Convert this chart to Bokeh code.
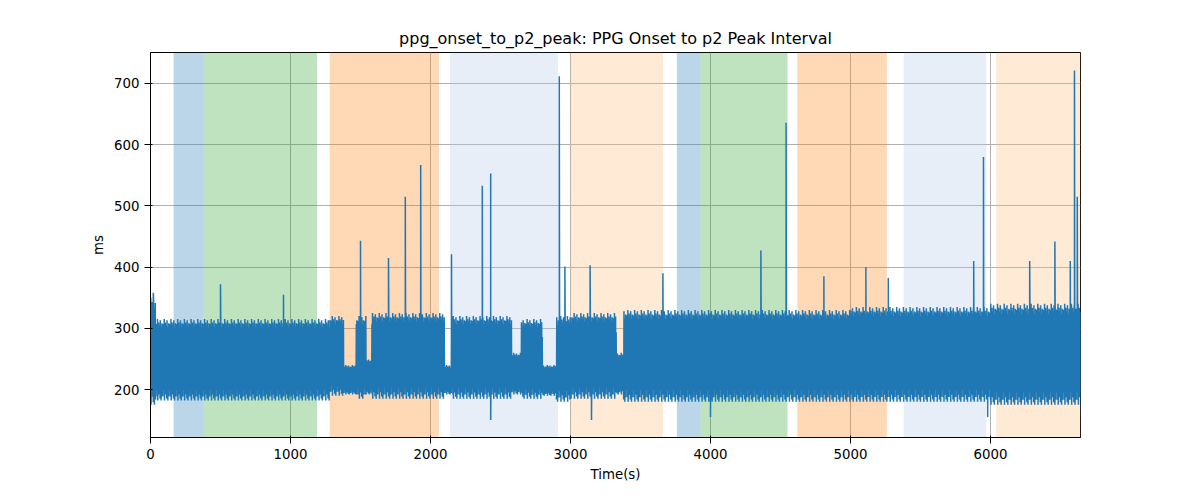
from bokeh.plotting import figure
from bokeh.models import BoxAnnotation, Range1d
from bokeh.embed import file_html
from bokeh.resources import INLINE

# shaded phases
span_start = [165, 375, 1280, 2140, 3000, 3760, 3930, 4620, 5380, 6040]
span_end   = [375, 1190, 2060, 2910, 3660, 3930, 4550, 5260, 5970, 6660]
span_color = ["#1f77b4", "#2ca02c", "#ff7f0e", "#aec7e8", "#ffbb78",
              "#1f77b4", "#2ca02c", "#ff7f0e", "#aec7e8", "#ffbb78"]

# signal envelope segments
seg_start = [0, 40, 1280, 1380, 1470, 1540, 1580, 2100, 2150, 2580, 2650, 2800, 2900, 3000, 3330, 3380, 3700, 5000, 6000]
seg_end   = [40, 1280, 1380, 1470, 1540, 1580, 2100, 2150, 2580, 2650, 2800, 2900, 3000, 3330, 3380, 3700, 5000, 6000, 6643]
seg_low   = [175, 182, 190, 192, 185, 192, 185, 192, 185, 192, 185, 190, 180, 185, 192, 180, 180, 180, 175]
seg_high  = [350, 315, 320, 240, 320, 250, 325, 240, 320, 260, 315, 240, 320, 325, 260, 330, 330, 335, 340]
# relative swing pattern of successive beats (fraction of envelope)
swing_hi = [1.0, 0.7, 0.92, 0.55, 0.85, 0.97, 0.62, 0.8, 0.9, 0.45, 0.88, 0.75]
swing_lo = [0.9, 1.0, 0.7, 0.85, 0.6, 0.95, 0.8, 1.0, 0.65, 0.9, 0.75, 0.5]

# spikes and dips
spike_t = [20, 500, 950, 1500, 1700, 1820, 1930, 2150, 2370, 2430, 2920, 2960, 3140, 3660,
           4360, 4540, 4810, 5110, 5270, 5880, 5950, 6280, 6460, 6570, 6600, 6620]
spike_v = [358, 372, 355, 443, 415, 515, 567, 421, 533, 553, 712, 401, 403, 390,
           427, 636, 385, 400, 382, 410, 580, 410, 442, 410, 721, 515]
dip_t = [2430, 3150, 4000, 5980, 6650]
dip_v = [150, 150, 155, 155, 155]

xs, ys = [], []
k = 0
for s, e, lo, hi in zip(seg_start, seg_end, seg_low, seg_high):
    mid = (lo + hi) / 2
    t = s
    while t < e:
        if k % 2 == 0:
            v = mid - (mid - lo) * swing_lo[(k // 2) % len(swing_lo)]
        else:
            v = mid + (hi - mid) * swing_hi[(k // 2) % len(swing_hi)]
        xs.append(t); ys.append(v)
        t += 2; k += 1
pts = list(zip(xs, ys)) + list(zip(spike_t, spike_v)) + list(zip(dip_t, dip_v))
pts.sort(key=lambda p: p[0])
xs = [p[0] for p in pts]; ys = [p[1] for p in pts]

p = figure(width=1184, height=484, output_backend="svg", toolbar_location=None,
           title="ppg_onset_to_p2_peak: PPG Onset to p2 Peak Interval",
           x_range=Range1d(0, 6643), y_range=Range1d(121.6, 750.6),
           min_border_left=150, min_border_right=104, min_border_top=52, min_border_bottom=39)
p.title.align = "center"
p.title.text_font = "DejaVu Sans"; p.title.text_font_style = "normal"; p.title.text_font_size = "12pt"
p.title.text_color = "black"
for s, e, c in zip(span_start, span_end, span_color):
    p.add_layout(BoxAnnotation(left=s, right=e, fill_color=c, fill_alpha=0.3, line_alpha=0, level="underlay"))
p.line(xs, ys, color="#1f77b4", line_width=1.5)
p.xaxis.axis_label = "Time(s)"; p.yaxis.axis_label = "ms"
for ax in (p.xaxis, p.yaxis):
    ax.axis_label_text_font = "DejaVu Sans"; ax.axis_label_text_font_style = "normal"
    ax.axis_label_text_font_size = "10pt"; ax.axis_label_text_color = "black"
    ax.major_label_text_font = "DejaVu Sans"; ax.major_label_text_font_size = "10pt"
    ax.major_label_text_color = "black"
    ax.minor_tick_line_color = None
    ax.axis_line_color = "black"; ax.major_tick_line_color = "black"
p.xaxis.ticker = [0, 1000, 2000, 3000, 4000, 5000, 6000]
p.yaxis.ticker = [200, 300, 400, 500, 600, 700]
p.grid.grid_line_color = "#b0b0b0"
p.grid.level = "underlay"
p.outline_line_color = "black"
open("out.html", "w").write(file_html(p, INLINE))
